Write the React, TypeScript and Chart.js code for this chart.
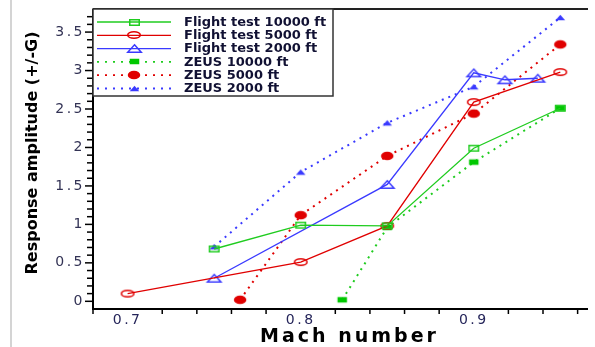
import React, { useEffect, useRef } from 'react';
import { Chart, registerables } from 'chart.js';

Chart.register(...registerables);

// ---- Data ----
const machFT10000 = [0.75, 0.8, 0.85, 0.9, 0.95];
const ampFT10000 = [0.68, 0.99, 0.98, 1.99, 2.51];

const machFT5000 = [0.7, 0.8, 0.85, 0.9, 0.95];
const ampFT5000 = [0.1, 0.51, 0.98, 2.59, 2.98];

const machFT2000 = [0.75, 0.85, 0.9, 0.918, 0.937];
const ampFT2000 = [0.3, 1.52, 2.97, 2.88, 2.9];

const machZ10000 = [0.824, 0.85, 0.9, 0.95];
const ampZ10000 = [0.02, 0.96, 1.81, 2.51];

const machZ5000 = [0.765, 0.8, 0.85, 0.9, 0.95];
const ampZ5000 = [0.02, 1.12, 1.89, 2.44, 3.34];

const machZ2000 = [0.75, 0.8, 0.85, 0.9, 0.95];
const ampZ2000 = [0.71, 1.68, 2.32, 2.79, 3.69];

const seriesLabels = [
  'Flight test 10000 ft',
  'Flight test 5000 ft',
  'Flight test 2000 ft',
  'ZEUS 10000 ft',
  'ZEUS 5000 ft',
  'ZEUS 2000 ft',
];

const xTickValues = [0.7, 0.8, 0.9];
const yTickValues = [0, 0.5, 1, 1.5, 2, 2.5, 3, 3.5];

const X_MIN = 0.68;
const X_MAX = 0.966;
const Y_MIN = -0.1;
const Y_MAX = 3.8;

const GREEN = '#1fcc1f';
const RED = '#e00000';
const BLUE = '#3a3aff';

function makeMarker(shape: string, w: number, h: number, color: string, filled: boolean) {
  const pad = 2;
  const c = document.createElement('canvas');
  c.width = w + pad * 2;
  c.height = h + pad * 2;
  const g = c.getContext('2d') as CanvasRenderingContext2D;
  g.translate(pad, pad);
  g.beginPath();
  if (shape === 'rect') {
    g.rect(0.75, 0.75, w - 1.5, h - 1.5);
  } else if (shape === 'ellipse') {
    g.ellipse(w / 2, h / 2, w / 2 - 0.75, h / 2 - 0.75, 0, 0, Math.PI * 2);
  } else {
    g.moveTo(w / 2, 0.75);
    g.lineTo(w - 0.75, h - 0.75);
    g.lineTo(0.75, h - 0.75);
    g.closePath();
  }
  if (filled) {
    g.fillStyle = color;
    g.fill();
  } else {
    g.strokeStyle = color;
    g.lineWidth = 1.5;
    g.stroke();
  }
  return c;
}

function pts(xs: number[], ys: number[]) {
  return xs.map((x, i) => ({ x, y: ys[i] }));
}

const frame = {
  id: 'frame',
  beforeDraw(chart: any) {
    const ctx = chart.ctx;
    ctx.save();
    ctx.fillStyle = '#ffffff';
    ctx.fillRect(0, 0, chart.width, chart.height);
    ctx.restore();
    // light page edge at the left
    ctx.save();
    ctx.strokeStyle = '#d4d4d4';
    ctx.lineWidth = 2;
    ctx.beginPath();
    ctx.moveTo(11, 0);
    ctx.lineTo(11, chart.height);
    ctx.stroke();
    ctx.restore();
    (ctx as any).letterSpacing = '2.5px';
  },
  beforeDatasetsDraw(chart: any) {
    const ctx = chart.ctx;
    (ctx as any).letterSpacing = '0px';
    const xs = chart.scales.x;
    const ys = chart.scales.y;
    const a = chart.chartArea;
    ctx.save();
    ctx.strokeStyle = '#000';
    ctx.lineWidth = 1.5;
    // y minor/major ticks
    for (let k = 0; k <= 37; k++) {
      const v = k / 10;
      const py = ys.getPixelForValue(v);
      const major = k % 5 === 0;
      ctx.beginPath();
      ctx.moveTo(a.left - (major ? 8 : 6), py);
      ctx.lineTo(a.left, py);
      ctx.stroke();
    }
    // x ticks every 0.02, none at labelled values
    for (let k = 34; k <= 48; k++) {
      if (k % 5 === 0) continue;
      const v = k / 50;
      const px = xs.getPixelForValue(v);
      ctx.beginPath();
      ctx.moveTo(px, a.bottom);
      ctx.lineTo(px, a.bottom + 5);
      ctx.stroke();
    }
    // axes and top frame
    ctx.lineWidth = 2;
    ctx.beginPath();
    ctx.moveTo(a.left, a.top);
    ctx.lineTo(a.left, a.bottom);
    ctx.lineTo(a.right, a.bottom);
    ctx.stroke();
    ctx.strokeStyle = '#222';
    ctx.beginPath();
    ctx.moveTo(a.left, a.top);
    ctx.lineTo(a.right, a.top);
    ctx.stroke();
    ctx.restore();
  },
  afterDraw(chart: any) {
    const ctx = chart.ctx;
    const a = chart.chartArea;
    (ctx as any).letterSpacing = '0px';
    // axis titles
    ctx.save();
    ctx.fillStyle = '#000';
    ctx.font = 'bold 16px "DejaVu Sans"';
    ctx.textAlign = 'center';
    ctx.textBaseline = 'middle';
    ctx.translate(33, 153);
    ctx.rotate(-Math.PI / 2);
    ctx.fillText('Response amplitude (+/-G)', 0, 0);
    ctx.restore();

    ctx.save();
    ctx.fillStyle = '#000';
    ctx.font = 'bold 19px "DejaVu Sans"';
    (ctx as any).letterSpacing = '3px';
    ctx.textAlign = 'center';
    ctx.textBaseline = 'middle';
    ctx.fillText('Mach number', 348 + 1.5, 337);
    (ctx as any).letterSpacing = '0px';
    ctx.restore();

    // legend box
    const bx = a.left, by = a.top, bw = 240, bh = 87;
    ctx.save();
    ctx.fillStyle = '#fff';
    ctx.fillRect(bx, by, bw, bh);
    ctx.strokeStyle = '#333';
    ctx.lineWidth = 1.5;
    ctx.strokeRect(bx, by, bw, bh);
    chart.data.datasets.forEach((ds: any, i: number) => {
      const y = by + 13 + i * 13.3;
      ctx.strokeStyle = ds.borderColor;
      ctx.lineWidth = ds.borderDash && ds.borderDash.length ? 1.8 : 1.3;
      ctx.setLineDash(ds.borderDash && ds.borderDash.length ? [2, 6] : []);
      ctx.beginPath();
      ctx.moveTo(97, y);
      ctx.lineTo(171, y);
      ctx.stroke();
      ctx.setLineDash([]);
      const m = ds.pointStyle;
      ctx.drawImage(m, Math.round(134 - m.width / 2), Math.round(y - m.height / 2));
      ctx.fillStyle = '#111133';
      ctx.font = 'bold 13px "DejaVu Sans"';
      ctx.textAlign = 'left';
      ctx.textBaseline = 'middle';
      ctx.fillText(ds.label, 184, y + 0.5);
    });
    ctx.restore();
  },
};

export default function App() {
  const ref = useRef<HTMLCanvasElement | null>(null);
  useEffect(() => {
    document.body.style.margin = '0';
    const canvas = ref.current as HTMLCanvasElement;
    const mFT10000 = makeMarker('rect', 11, 7, GREEN, false);
    const mFT5000 = makeMarker('ellipse', 14, 8, RED, false);
    const mFT2000 = makeMarker('tri', 15, 9, BLUE, false);
    const mZ10000 = makeMarker('rect', 11, 7, '#00c800', true);
    const mZ5000 = makeMarker('ellipse', 14, 10, RED, true);
    const mZ2000 = makeMarker('tri', 11, 7, BLUE, true);
    const dotted = [2, 5];
    const common = { pointRadius: 5, tension: 0, fill: false };
    const chart = new Chart(canvas, {
      type: 'line',
      data: {
        datasets: [
          { ...common, label: seriesLabels[0], data: pts(machFT10000, ampFT10000), borderColor: GREEN, borderWidth: 1.3, borderDash: [], pointStyle: mFT10000 },
          { ...common, label: seriesLabels[1], data: pts(machFT5000, ampFT5000), borderColor: RED, borderWidth: 1.3, borderDash: [], pointStyle: mFT5000 },
          { ...common, label: seriesLabels[2], data: pts(machFT2000, ampFT2000), borderColor: BLUE, borderWidth: 1.3, borderDash: [], pointStyle: mFT2000 },
          { ...common, label: seriesLabels[3], data: pts(machZ10000, ampZ10000), borderColor: GREEN, borderWidth: 2, borderDash: dotted, pointStyle: mZ10000 },
          { ...common, label: seriesLabels[4], data: pts(machZ5000, ampZ5000), borderColor: RED, borderWidth: 2, borderDash: dotted, pointStyle: mZ5000 },
          { ...common, label: seriesLabels[5], data: pts(machZ2000, ampZ2000), borderColor: BLUE, borderWidth: 2, borderDash: dotted, pointStyle: mZ2000 },
        ] as any,
      },
      options: {
        animation: false,
        responsive: false,
        devicePixelRatio: 1,
        layout: { padding: { top: 9, right: 0, bottom: 0, left: 0 } },
        plugins: { legend: { display: false }, tooltip: { enabled: false } },
        scales: {
          x: {
            type: 'linear',
            min: X_MIN,
            max: X_MAX,
            afterBuildTicks: (s: any) => { s.ticks = xTickValues.map((v) => ({ value: v })); },
            afterFit: (s: any) => { s.height = 38; s.paddingLeft = 0; s.paddingRight = 0; },
            grid: { display: false, drawTicks: false },
            border: { display: false },
            ticks: {
              autoSkip: false,
              maxRotation: 0,
              padding: 3,
              color: '#25255a',
              font: { family: 'DejaVu Sans', size: 14 },
              callback: (v: any) => String(Math.round(Number(v) * 10) / 10),
            },
          },
          y: {
            type: 'linear',
            min: Y_MIN,
            max: Y_MAX,
            afterBuildTicks: (s: any) => { s.ticks = yTickValues.map((v) => ({ value: v })); },
            afterFit: (s: any) => { s.width = 93; s.paddingTop = 0; s.paddingBottom = 0; },
            grid: { display: false, drawTicks: false },
            border: { display: false },
            ticks: {
              autoSkip: false,
              padding: 8,
              color: '#333355',
              font: { family: 'DejaVu Sans', size: 14 },
              callback: (v: any) => String(Math.round(Number(v) * 10) / 10),
            },
          },
        },
      },
      plugins: [frame],
    } as any);
    return () => chart.destroy();
  }, []);
  return (
    <div style={{ position: 'absolute', left: 0, top: 0, width: 595, height: 347 }}>
      <canvas ref={ref} width={595} height={347} style={{ display: 'block' }} />
    </div>
  );
}
